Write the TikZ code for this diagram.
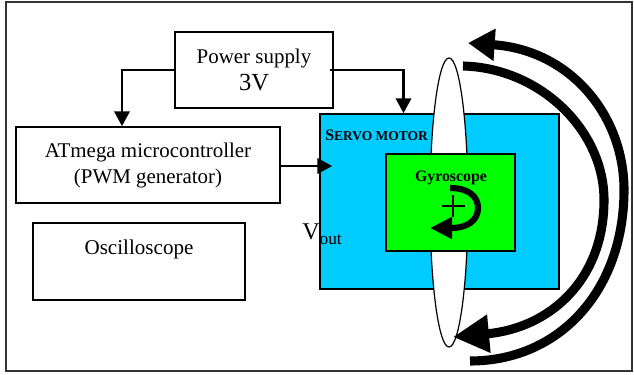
\documentclass[tikz,border=0pt]{standalone}
\usepackage{fontspec}
\setmainfont{Liberation Serif}
\usetikzlibrary{arrows.meta,shapes.geometric}
\tikzset{
  block/.style={draw, line width=1.3pt, inner sep=0pt, align=center, font=\fontsize{15.7}{19.5}\selectfont},
  link/.style={draw, line width=1.6pt, -{Triangle[length=11pt,width=11.5pt]}},
  swing/.style={line width=6.8pt}
}
\begin{document}
\begin{tikzpicture}[x=0.75pt,y=-0.75pt]
\useasboundingbox (0,0) rectangle (634,374);
\draw [line width=1.1pt, black!80!white] (6,2) rectangle (632,371);

\node [block, minimum width=119pt, minimum height=57pt] (power) at (254,70)
  {Power supply\\[1pt]{\fontsize{18.4}{20}\selectfont 3V}};
\node [block, minimum width=198pt, minimum height=57pt] (atmega) at (148,165)
  {ATmega microcontroller\\(PWM generator)};
\node [block, minimum width=159pt, minimum height=57.75pt] (scope) at (139,261.5) {};
\node [font=\fontsize{15.8}{19}\selectfont] (scopetext) at (139,249) {Oscilloscope};

\node [block, fill={rgb,255:red,0;green,204;blue,255}, minimum width=179.25pt, minimum height=131.25pt] (servo) at (439.5,201.5) {};
\node [draw, ellipse, fill=white, line width=0.9pt, inner sep=0pt, minimum width=28.5pt, minimum height=216.75pt] (disc) at (449,202.5) {};
\node [block, fill=green, minimum width=96.75pt, minimum height=72.75pt] (gyro) at (450.5,202.5) {};

\node [anchor=base west, inner sep=0pt, font=\bfseries] (servotext) at (325,141)
  {{\fontsize{12}{14}\selectfont S}{\fontsize{10.1}{14}\selectfont ERVO MOTOR}};
\node [anchor=base, inner sep=0pt, font=\bfseries\fontsize{11.9}{14}\selectfont] (gyrotext) at (451,181) {Gyroscope};
\node [anchor=base west, inner sep=0pt] (vout) at (302,239)
  {\fontsize{18}{20}\selectfont V\raisebox{-3.75pt}{\fontsize{13}{15}\selectfont out}};

\draw [link] (power.west) -| ([xshift=-19.5pt]atmega.north);
\draw [link] ([xshift=-3pt]power.east) -| ([xshift=-27pt]servo.north);
\draw [link] ([yshift=-0.75pt]atmega.east) -- ([xshift=9.75pt,yshift=-0.75pt]servo.west |- atmega.east);

% spin arrow on the gyro
\draw [line width=1.8pt] (442,206) -- (465,206) (453,195) -- (453,217);
\draw [line width=4.6pt, -{Triangle[length=16.5pt,width=15.5pt]}] (450,188) .. controls (468,188) and (478,196) .. (478,208)
  .. controls (478,220) and (468,228) .. (430,228);

% the two big swing arrows
\draw [swing, -{Triangle[length=20pt,width=23pt]}] (470,361) .. controls (560,361) and (624,290) .. (624,190)
  .. controls (624,115) and (570,50) .. (468,43);
\draw [swing, -{Triangle[length=27pt,width=27pt]}] (463,66) .. controls (540,68) and (604,130) .. (604,200)
  .. controls (604,280) and (550,328) .. (453,337);
\end{tikzpicture}
\end{document}
